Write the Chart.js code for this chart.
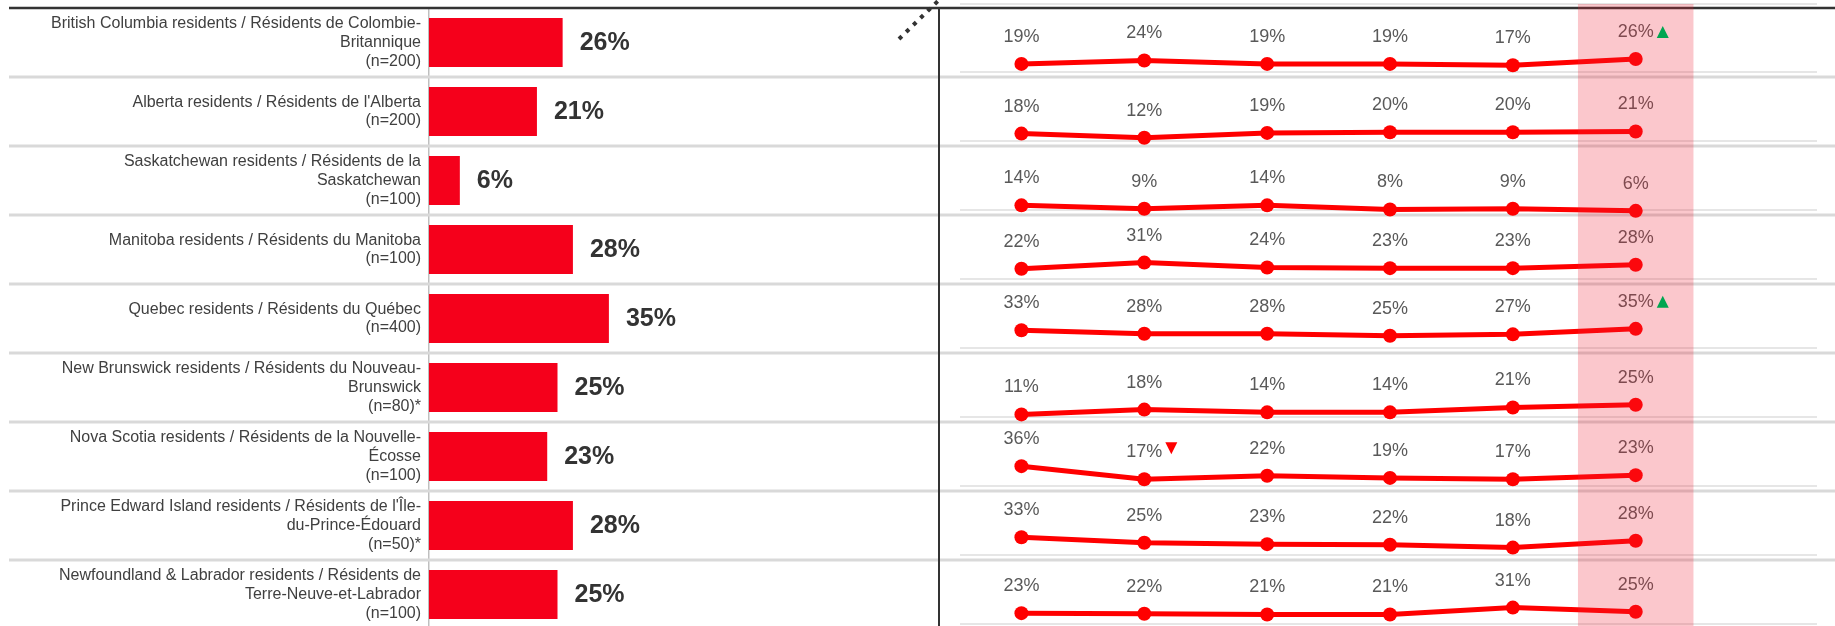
<!DOCTYPE html>
<html lang="en">
<head>
<meta charset="UTF-8">
<title>Regional results / Résultats régionaux</title>
<script src="https://cdn.jsdelivr.net/npm/chart.js@4.4.1/dist/chart.umd.min.js"></script>
<style>
    html, body { margin: 0; padding: 0; background: #fff; overflow: hidden; }
    .panel { position: relative; width: 1835px; height: 626px; }
    .panel canvas { position: absolute; left: 0; top: 0; }
</style>
</head>
<body>
<div class="panel">
    <canvas id="bar-chart" width="1835" height="640"></canvas>
    <canvas id="trend-chart" width="1835" height="640"></canvas>
</div>
<script>
// Region labels (one line per entry)
const regionLabels = [
    ['British Columbia residents / Résidents de Colombie-', 'Britannique', '(n=200)'],
    ['Alberta residents / Résidents de l\'Alberta', '(n=200)'],
    ['Saskatchewan residents / Résidents de la', 'Saskatchewan', '(n=100)'],
    ['Manitoba residents / Résidents du Manitoba', '(n=100)'],
    ['Quebec residents / Résidents du Québec', '(n=400)'],
    ['New Brunswick residents / Résidents du Nouveau-', 'Brunswick', '(n=80)*'],
    ['Nova Scotia residents / Résidents de la Nouvelle-', 'Écosse', '(n=100)'],
    ['Prince Edward Island residents / Résidents de l\'Île-', 'du-Prince-Édouard', '(n=50)*'],
    ['Newfoundland & Labrador residents / Résidents de', 'Terre-Neuve-et-Labrador', '(n=100)']
];

// Current wave (bars)
const currentValues = [26, 21, 6, 28, 35, 25, 23, 28, 25];

// Trend over waves (lines)
const waves = ['W1', 'W2', 'W3', 'W4', 'W5', 'W6'];
const trendBC = [19, 24, 19, 19, 17, 26];
const trendAB = [18, 12, 19, 20, 20, 21];
const trendSK = [14, 9, 14, 8, 9, 6];
const trendMB = [22, 31, 24, 23, 23, 28];
const trendQC = [33, 28, 28, 25, 27, 35];
const trendNB = [11, 18, 14, 14, 21, 25];
const trendNS = [36, 17, 22, 19, 17, 23];
const trendPE = [33, 25, 23, 22, 18, 28];
const trendNL = [23, 22, 21, 21, 31, 25];
const trendRows = [trendBC, trendAB, trendSK, trendMB, trendQC, trendNB, trendNS, trendPE, trendNL];

// Significant changes: [row, wave]
const sigUp = [[0, 5], [4, 5]];
const sigDown = [[6, 1]];

const FONT = 'Arial, "Liberation Sans", sans-serif';
const RED = '#ff0000';
const ROWS = regionLabels.length;

// Horizontal row separators across the full width
const rowLines = {
    id: 'rowLines',
    beforeDatasetsDraw(chart) {
        const { ctx } = chart;
        const y = chart.scales.y;
        const step = y.getPixelForValue(1) - y.getPixelForValue(0);
        ctx.save();
        for (let i = 1; i <= ROWS; i++) {
            const py = y.getPixelForValue(i) - step / 2;
            ctx.beginPath();
            ctx.moveTo(9, py);
            ctx.lineTo(chart.width, py);
            ctx.strokeStyle = '#d9d9d9';
            ctx.lineWidth = 3;
            ctx.stroke();
        }
        // top rule
        const top = y.getPixelForValue(0) - step / 2;
        ctx.beginPath();
        ctx.moveTo(9, top);
        ctx.lineTo(chart.width, top);
        ctx.strokeStyle = '#333';
        ctx.lineWidth = 2.5;
        ctx.stroke();
        ctx.restore();
    }
};

// Bold % value after each bar
const barValueLabels = {
    id: 'barValueLabels',
    afterDatasetsDraw(chart) {
        const { ctx } = chart;
        const meta = chart.getDatasetMeta(0);
        ctx.save();
        ctx.font = 'bold 25px ' + FONT;
        ctx.fillStyle = '#333';
        ctx.textAlign = 'left';
        ctx.textBaseline = 'middle';
        meta.data.forEach((bar, i) => {
            ctx.fillText(currentValues[i] + '%', bar.x + 17, bar.y + 1);
        });
        ctx.restore();
    }
};

new Chart(document.getElementById('bar-chart'), {
    type: 'bar',
    data: {
        labels: regionLabels,
        datasets: [{
            data: currentValues,
            backgroundColor: '#f5001b',
            barPercentage: 0.71,
            categoryPercentage: 1
        }]
    },
    options: {
        indexAxis: 'y',
        responsive: false,
        animation: false,
        layout: { padding: { top: 8, bottom: 11, left: 0, right: 892 } },
        plugins: { legend: { display: false }, tooltip: { enabled: false } },
        scales: {
            x: { display: false, min: 0, max: 100 },
            y: {
                afterFit: (scale) => {
                    scale.width = 429;
                    // labels sit inside their rows, no extra room needed
                    scale.paddingTop = 0;
                    scale.paddingBottom = 0;
                },
                grid: { display: false, drawTicks: false },
                border: { display: true, color: '#bfbfbf', width: 1.5 },
                ticks: {
                    autoSkip: false,
                    padding: 8,
                    color: '#404040',
                    font: { family: FONT, size: 16, lineHeight: 1.17 }
                }
            }
        }
    },
    plugins: [rowLines, barValueLabels]
});

// Panel decorations: axis rules, divider, break mark
const trendFrame = {
    id: 'trendFrame',
    beforeDatasetsDraw(chart) {
        const { ctx, chartArea } = chart;
        const y = chart.scales.y;
        ctx.save();
        // thin light rules under each row
        ctx.strokeStyle = '#e6e6e6';
        ctx.lineWidth = 2;
        for (let r = 0; r <= ROWS; r++) {
            const py = y.getPixelForValue((ROWS - r) * 100) - (r === 0 ? 4 : 5);
            ctx.beginPath();
            ctx.moveTo(chartArea.left, py);
            ctx.lineTo(chartArea.right - 3, py);
            ctx.stroke();
        }
        // vertical divider
        ctx.strokeStyle = '#333';
        ctx.lineWidth = 2;
        ctx.beginPath();
        ctx.moveTo(939, y.getPixelForValue(ROWS * 100));
        ctx.lineTo(939, chart.height);
        ctx.stroke();
        // dotted break mark
        ctx.lineWidth = 4;
        ctx.setLineDash([4, 6]);
        ctx.beginPath();
        ctx.moveTo(899, 39);
        ctx.lineTo(941, -2);
        ctx.stroke();
        ctx.restore();
    },
    afterDatasetsDraw(chart) {
        const { ctx } = chart;
        ctx.save();
        ctx.font = '18px ' + FONT;
        ctx.fillStyle = '#595959';
        ctx.textAlign = 'center';
        ctx.textBaseline = 'middle';
        trendRows.forEach((row, r) => {
            const meta = chart.getDatasetMeta(r);
            meta.data.forEach((pt, i) => {
                ctx.fillText(row[i] + '%', pt.x, pt.y - 27);
            });
        });
        ctx.restore();
    },
    afterDraw(chart) {
        const { ctx } = chart;
        const x = chart.scales.x;
        ctx.save();
        // highlight band for the latest wave
        const last = waves.length - 1;
        const left = x.getPixelForValue(last - 0.47);
        const right = x.getPixelForValue(last + 0.47);
        ctx.fillStyle = 'rgba(240, 30, 50, 0.25)';
        ctx.fillRect(left, 4, right - left, chart.height);

        // significance arrows
        ctx.font = '18px ' + FONT;
        const drawArrow = (r, i, up) => {
            const pt = chart.getDatasetMeta(r).data[i];
            const cy = pt.y - 27;
            const lx = pt.x + ctx.measureText(trendRows[r][i] + '%').width / 2 + 3;
            ctx.beginPath();
            if (up) {
                ctx.fillStyle = '#00a651';
                ctx.moveTo(lx, cy + 6);
                ctx.lineTo(lx + 12, cy + 6);
                ctx.lineTo(lx + 6, cy - 6);
            } else {
                ctx.fillStyle = RED;
                ctx.moveTo(lx, cy - 10);
                ctx.lineTo(lx + 12, cy - 10);
                ctx.lineTo(lx + 6, cy + 2);
            }
            ctx.closePath();
            ctx.fill();
        };
        sigUp.forEach(([r, i]) => drawArrow(r, i, true));
        sigDown.forEach(([r, i]) => drawArrow(r, i, false));
        ctx.restore();
    }
};

// each row gets its own 0-100 band on a shared y axis
const trendDatasets = trendRows.map((row, r) => ({
    data: row.map((v, i) => ({ x: i, y: (ROWS - 1 - r) * 100 + v })),
    borderColor: RED,
    borderWidth: 5,
    backgroundColor: RED,
    pointBackgroundColor: RED,
    pointBorderWidth: 0,
    pointRadius: 7,
    tension: 0,
    clip: false
}));

new Chart(document.getElementById('trend-chart'), {
    type: 'line',
    data: { labels: waves, datasets: trendDatasets },
    options: {
        responsive: false,
        animation: false,
        layout: { padding: { top: 8, bottom: 11, left: 960, right: 15 } },
        plugins: { legend: { display: false }, tooltip: { enabled: false } },
        scales: {
            x: { type: 'linear', display: false, min: -0.5, max: waves.length + 0.5 },
            y: { display: false, min: 0, max: ROWS * 100 }
        }
    },
    plugins: [trendFrame]
});
</script>
</body>
</html>
